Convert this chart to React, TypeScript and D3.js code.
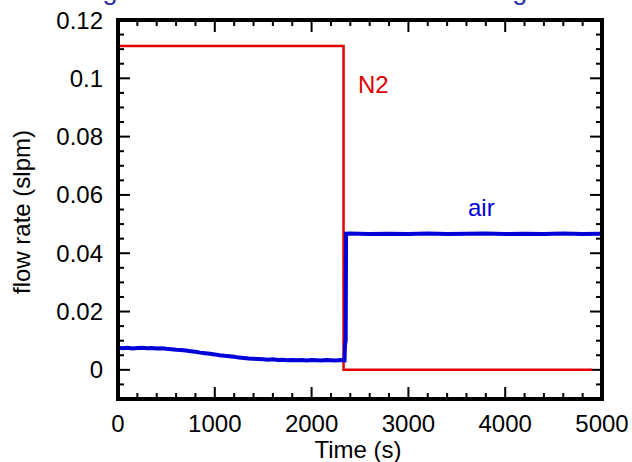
import React from "react";
import * as d3 from "d3";

const titleText = "Flow during N2 to air switch at the inlet mixing";

const xTicks = [0, 1000, 2000, 3000, 4000, 5000];
const yTicks = [0, 0.02, 0.04, 0.06, 0.08, 0.1, 0.12];

// N2 flow (slpm) vs time (s)
const n2Time = [0, 2330, 2330, 4900];
const n2Flow = [0.1111, 0.1111, 0, 0];

// air flow (slpm) vs time (s)
const airTime = [
  0, 50, 100, 150, 200, 250, 300, 350, 400, 450, 500, 550, 600, 650, 700, 750, 800, 850, 900, 950,
  1000, 1050, 1100, 1150, 1200, 1250, 1300, 1350, 1400, 1450, 1500, 1550, 1600, 1650, 1700, 1750,
  1800, 1850, 1900, 1950, 2000, 2050, 2100, 2150, 2200, 2250, 2300, 2340, 2345, 2352, 2356,
  2400, 2600, 2800, 3000, 3200, 3400, 3600, 3800, 4000, 4200, 4400, 4600, 4800, 4980,
];
const airFlow = [
  0.0076, 0.0074, 0.0076, 0.0073, 0.0075, 0.0076, 0.0074, 0.0075, 0.0073, 0.0074, 0.0072, 0.0071, 0.0069, 0.0068, 0.0066, 0.0064, 0.0062, 0.0059, 0.0057, 0.0055,
  0.0053, 0.0050, 0.0048, 0.0047, 0.0045, 0.0042, 0.0041, 0.0039, 0.0038, 0.0037, 0.0036, 0.0035, 0.0036, 0.0034, 0.0035, 0.0033,
  0.0034, 0.0033, 0.0034, 0.0032, 0.0034, 0.0033, 0.0032, 0.0034, 0.0033, 0.0032, 0.0034, 0.0033, 0.0085, 0.0100, 0.0467,
  0.0468, 0.0466, 0.0467, 0.0466, 0.0468, 0.0466, 0.0467, 0.0468, 0.0466, 0.0467, 0.0466, 0.0468, 0.0466, 0.0467,
];

const n2Label = "N2";
const airLabel = "air";

export default function App() {
  const W = 632, H = 462;
  const x = d3.scaleLinear().domain([0, 5000]).range([118, 602]);
  const y = d3.scaleLinear().domain([-0.01, 0.12]).range([399, 20]);
  const line = d3.line<[number, number]>().x(d => x(d[0])).y(d => y(d[1]));
  const n2Data = n2Time.map((t, i) => [t, n2Flow[i]] as [number, number]);
  const airData = airTime.map((t, i) => [t, airFlow[i]] as [number, number]);
  const xMinor = d3.range(0, 5001, 200).filter(v => v % 1000 !== 0);
  const yMinor = d3.range(-0.005, 0.1201, 0.005).filter(v => Math.abs(Math.round(v * 1000) % 20) !== 0);
  const [x0, x1] = x.range();
  const [y0, y1] = y.range();
  const font = "Liberation Sans, Arial, sans-serif";
  return (
    <svg width={W} height={H} style={{ position: "absolute", left: 0, top: 0, background: "#fff" }} fontFamily={font}>
      <text x={-22} y={-1.5} fontSize={27} fill="#3030a8">{titleText}</text>
      {/* ticks */}
      <g stroke="#000" strokeWidth={2}>
        {xTicks.map(v => (
          <g key={"xt" + v}>
            <line x1={x(v)} x2={x(v)} y1={y0} y2={y0 - 12} />
            <line x1={x(v)} x2={x(v)} y1={y1} y2={y1 + 12} />
          </g>
        ))}
        {xMinor.map(v => (
          <g key={"xm" + v}>
            <line x1={x(v)} x2={x(v)} y1={y0} y2={y0 - 6} />
            <line x1={x(v)} x2={x(v)} y1={y1} y2={y1 + 6} />
          </g>
        ))}
        {yTicks.map(v => (
          <g key={"yt" + v}>
            <line x1={x0} x2={x0 + 12} y1={y(v)} y2={y(v)} />
            <line x1={x1} x2={x1 - 12} y1={y(v)} y2={y(v)} />
          </g>
        ))}
        {yMinor.map(v => (
          <g key={"ym" + v}>
            <line x1={x0} x2={x0 + 6} y1={y(v)} y2={y(v)} />
            <line x1={x1} x2={x1 - 6} y1={y(v)} y2={y(v)} />
          </g>
        ))}
      </g>
      <path d={line(n2Data) || ""} fill="none" stroke="#e00000" strokeWidth={2.5} />
      <path d={line(airData) || ""} fill="none" stroke="#0000d8" strokeWidth={4} />
      <rect x={x0} y={y1} width={x1 - x0} height={y0 - y1} fill="none" stroke="#000" strokeWidth={4} />
      {xTicks.map(v => (
        <text key={"xl" + v} x={x(v)} y={432} fontSize={24} textAnchor="middle">{v}</text>
      ))}
      {yTicks.map(v => (
        <text key={"yl" + v} x={103} y={y(v) + 8.5} fontSize={24} textAnchor="end">{v}</text>
      ))}
      <text x={358} y={458} fontSize={24} textAnchor="middle">Time (s)</text>
      <text transform="translate(30,212) rotate(-90)" fontSize={24} textAnchor="middle">flow rate (slpm)</text>
      <text x={358} y={93} fontSize={24} fill="#e00000">{n2Label}</text>
      <text x={468} y={216} fontSize={24} fill="#0000d8">{airLabel}</text>
    </svg>
  );
}
